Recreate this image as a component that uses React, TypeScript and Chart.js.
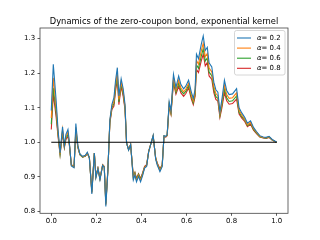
import React, { useEffect, useRef } from "react";
import { Chart, registerables } from "chart.js";

Chart.register(...registerables);

const TITLE = "Dynamics of the zero-coupon bond, exponential kernel";
const ALPHAS = ["0.2", "0.4", "0.6", "0.8"];
const COLORS = ["#1f77b4", "#ff7f0e", "#2ca02c", "#d62728"];
const X_TICKS = [0, 0.2, 0.4, 0.6, 0.8, 1.0];
const Y_TICKS = [0.8, 0.9, 1.0, 1.1, 1.2, 1.3];
const BASELINE_X = [0, 1];
const BASELINE_Y = [1, 1];

const T = [
  0.000, 0.009, 0.021, 0.030, 0.039, 0.050, 0.058, 0.065, 0.074, 0.080,
  0.089, 0.101, 0.109, 0.118, 0.127, 0.139, 0.151, 0.160, 0.169, 0.180,
  0.191, 0.198, 0.207, 0.216, 0.228, 0.235, 0.242, 0.251, 0.260, 0.269,
  0.278, 0.285, 0.293, 0.300, 0.310, 0.319, 0.327, 0.334, 0.343, 0.352,
  0.364, 0.371, 0.378, 0.387, 0.396, 0.405, 0.414, 0.423, 0.432, 0.442,
  0.452, 0.463, 0.470, 0.482, 0.492, 0.500, 0.508, 0.514, 0.523, 0.531,
  0.542, 0.553, 0.565, 0.575, 0.587, 0.597, 0.609, 0.621, 0.630, 0.638,
  0.644, 0.653, 0.665, 0.674, 0.683, 0.692, 0.700, 0.712, 0.721, 0.730,
  0.739, 0.748, 0.757, 0.768, 0.778, 0.789, 0.804, 0.822, 0.833, 0.845,
  0.858, 0.870, 0.884, 0.897, 0.910, 0.925, 0.940, 0.953, 0.966, 0.980,
  0.990, 1.000,
];

const RED = [
  1.037, 1.139, 1.076, 1.017, 0.964, 1.027, 0.984, 1.008, 1.017, 0.993,
  0.935, 0.930, 1.027, 0.984, 0.964, 0.957, 0.959, 0.967, 0.955, 0.858,
  0.969, 0.901, 0.925, 0.895, 0.935, 0.930, 0.824, 0.920, 1.056, 1.095,
  1.105, 1.148, 1.182, 1.109, 1.162, 1.133, 1.095, 0.998, 0.979, 0.993,
  0.901, 0.913, 0.895, 0.909, 0.895, 0.911, 0.930, 0.935, 0.974, 0.996,
  1.017, 0.955, 0.940, 0.923, 0.935, 1.017, 1.015, 1.019, 1.105, 1.081,
  1.173, 1.139, 1.162, 1.143, 1.133, 1.141, 1.158, 1.126, 1.109, 1.133,
  1.211, 1.202, 1.235, 1.255, 1.221, 1.231, 1.192, 1.182, 1.144, 1.124,
  1.119, 1.072, 1.100, 1.144, 1.120, 1.110, 1.112, 1.125, 1.082, 1.070,
  1.060, 1.045, 1.052, 1.035, 1.025, 1.015, 1.012, 1.011, 1.014, 1.006,
  1.003, 1.000,
];

const GREEN = [
  1.052, 1.158, 1.090, 1.023, 0.965, 1.032, 0.986, 1.012, 1.023, 0.995,
  0.934, 0.929, 1.035, 0.986, 0.964, 0.957, 0.960, 0.968, 0.955, 0.856,
  0.969, 0.900, 0.924, 0.894, 0.934, 0.929, 0.821, 0.919, 1.059, 1.100,
  1.112, 1.157, 1.192, 1.117, 1.169, 1.140, 1.100, 0.998, 0.978, 0.993,
  0.898, 0.911, 0.892, 0.907, 0.892, 0.909, 0.928, 0.933, 0.973, 0.996,
  1.018, 0.954, 0.938, 0.921, 0.933, 1.018, 1.016, 1.020, 1.109, 1.084,
  1.180, 1.145, 1.171, 1.150, 1.140, 1.148, 1.165, 1.132, 1.114, 1.139,
  1.224, 1.214, 1.249, 1.271, 1.235, 1.244, 1.203, 1.193, 1.153, 1.132,
  1.127, 1.077, 1.108, 1.155, 1.129, 1.118, 1.120, 1.134, 1.087, 1.074,
  1.064, 1.048, 1.055, 1.037, 1.027, 1.016, 1.013, 1.012, 1.015, 1.006,
  1.003, 1.000,
];

const ORANGE = [
  1.070, 1.187, 1.105, 1.029, 0.967, 1.037, 0.988, 1.017, 1.029, 0.998,
  0.933, 0.928, 1.043, 0.988, 0.965, 0.958, 0.961, 0.969, 0.955, 0.853,
  0.969, 0.899, 0.924, 0.893, 0.934, 0.928, 0.818, 0.918, 1.062, 1.104,
  1.119, 1.166, 1.202, 1.124, 1.175, 1.146, 1.104, 0.998, 0.978, 0.993,
  0.895, 0.908, 0.889, 0.904, 0.889, 0.906, 0.927, 0.932, 0.973, 0.996,
  1.019, 0.953, 0.937, 0.918, 0.932, 1.018, 1.016, 1.021, 1.112, 1.087,
  1.187, 1.151, 1.180, 1.157, 1.146, 1.154, 1.171, 1.138, 1.120, 1.145,
  1.237, 1.226, 1.264, 1.287, 1.248, 1.257, 1.215, 1.204, 1.162, 1.141,
  1.135, 1.082, 1.115, 1.166, 1.138, 1.127, 1.129, 1.143, 1.093, 1.079,
  1.067, 1.051, 1.058, 1.040, 1.029, 1.017, 1.014, 1.013, 1.016, 1.007,
  1.003, 1.000,
];

const BLUE = [
  1.092, 1.226, 1.126, 1.037, 0.969, 1.045, 0.990, 1.023, 1.037, 1.001,
  0.931, 0.926, 1.054, 0.990, 0.966, 0.959, 0.962, 0.971, 0.955, 0.850,
  0.969, 0.897, 0.923, 0.891, 0.933, 0.927, 0.814, 0.916, 1.066, 1.110,
  1.129, 1.178, 1.216, 1.134, 1.184, 1.155, 1.110, 0.998, 0.977, 0.993,
  0.891, 0.905, 0.885, 0.901, 0.885, 0.903, 0.925, 0.930, 0.972, 0.996,
  1.020, 0.951, 0.934, 0.915, 0.929, 1.019, 1.017, 1.022, 1.117, 1.091,
  1.197, 1.159, 1.192, 1.167, 1.155, 1.163, 1.180, 1.146, 1.127, 1.153,
  1.255, 1.242, 1.283, 1.308, 1.266, 1.275, 1.230, 1.218, 1.174, 1.152,
  1.145, 1.088, 1.125, 1.180, 1.150, 1.138, 1.140, 1.155, 1.100, 1.085,
  1.072, 1.055, 1.062, 1.043, 1.031, 1.019, 1.015, 1.014, 1.017, 1.008,
  1.004, 1.000,
];

const SERIES = [BLUE, ORANGE, GREEN, RED];

const FONT = "'DejaVu Sans', sans-serif";

const framePlugin = {
  id: "frame",
  afterDraw(chart: any) {
    const { ctx, chartArea } = chart;
    const { left, right, top, bottom } = chartArea;
    ctx.save();
    // spines
    ctx.strokeStyle = "#444";
    ctx.lineWidth = 0.8;
    ctx.strokeRect(left, top, right - left, bottom - top);
    // title
    ctx.fillStyle = "#000";
    ctx.font = `8.33px ${FONT}`;
    ctx.textAlign = "center";
    ctx.textBaseline = "middle";
    ctx.fillText(TITLE, (left + right) / 2, 21.5);
    // legend
    const bx = 234.5, by = 30.5, bw = 50.5, bh = 44.5, r = 2;
    ctx.beginPath();
    ctx.moveTo(bx + r, by);
    ctx.lineTo(bx + bw - r, by);
    ctx.quadraticCurveTo(bx + bw, by, bx + bw, by + r);
    ctx.lineTo(bx + bw, by + bh - r);
    ctx.quadraticCurveTo(bx + bw, by + bh, bx + bw - r, by + bh);
    ctx.lineTo(bx + r, by + bh);
    ctx.quadraticCurveTo(bx, by + bh, bx, by + bh - r);
    ctx.lineTo(bx, by + r);
    ctx.quadraticCurveTo(bx, by, bx + r, by);
    ctx.closePath();
    ctx.fillStyle = "rgba(255,255,255,0.8)";
    ctx.fill();
    ctx.strokeStyle = "#cccccc";
    ctx.lineWidth = 0.8;
    ctx.stroke();
    const ds = chart.data.datasets.slice(0, 4);
    ds.forEach((d: any, i: number) => {
      const y = 38 + i * 10.1;
      ctx.strokeStyle = d.borderColor;
      ctx.lineWidth = 1.1;
      ctx.beginPath();
      ctx.moveTo(237, y);
      ctx.lineTo(251, y);
      ctx.stroke();
      ctx.fillStyle = "#000";
      ctx.textAlign = "left";
      ctx.textBaseline = "middle";
      ctx.font = `italic 6.94px ${FONT}`;
      ctx.fillText("α", 257, y);
      const aw = ctx.measureText("α").width;
      ctx.font = `6.94px ${FONT}`;
      ctx.fillText(d.label.replace("α", ""), 257 + aw, y);
    });
    ctx.restore();
  },
};

export default function App() {
  const ref = useRef<HTMLCanvasElement | null>(null);
  useEffect(() => {
    if (!ref.current) return;
    const datasets: any[] = SERIES.map((s, k) => ({
      label: "α= " + ALPHAS[k],
      data: T.map((x, i) => ({ x, y: s[i] })),
      borderColor: COLORS[k],
      backgroundColor: COLORS[k],
      borderWidth: 1.1,
      pointRadius: 0,
      tension: 0,
      order: k + 1,
    }));
    datasets.push({
      label: "baseline",
      data: BASELINE_X.map((x, i) => ({ x, y: BASELINE_Y[i] })),
      borderColor: "#000",
      borderWidth: 1.1,
      pointRadius: 0,
      order: 0,
    });
    const chart = new Chart(ref.current, {
      type: "line",
      data: { datasets },
      plugins: [framePlugin],
      options: {
        animation: false,
        responsive: false,
        devicePixelRatio: 1,
        layout: { padding: { top: 28, right: 32, left: 0, bottom: 0 } },
        plugins: {
          legend: { display: false },
          title: { display: false },
          tooltip: { enabled: false },
        },
        scales: {
          x: {
            type: "linear",
            min: -0.05,
            max: 1.05,
            afterBuildTicks: (s: any) => {
              s.ticks = X_TICKS.map((v) => ({ value: v }));
            },
            afterFit: (s: any) => {
              s.height = 26.7;
            },
            ticks: {
              callback: (v: any) => Number(v).toFixed(1),
              font: { family: FONT, size: 6.94 },
              color: "#000",
              padding: 0.8,
              maxRotation: 0,
              autoSkip: false,
            },
            grid: {
              display: true,
              drawOnChartArea: false,
              drawTicks: true,
              tickLength: 2.5,
              tickColor: "#333",
              tickWidth: 0.8,
            },
            border: { display: false },
          },
          y: {
            type: "linear",
            min: 0.794,
            max: 1.331,
            afterBuildTicks: (s: any) => {
              s.ticks = Y_TICKS.map((v) => ({ value: v }));
            },
            afterFit: (s: any) => {
              s.width = 40;
            },
            ticks: {
              callback: (v: any) => Number(v).toFixed(1),
              font: { family: FONT, size: 6.94 },
              color: "#000",
              padding: 2.4,
              autoSkip: false,
            },
            grid: {
              display: true,
              drawOnChartArea: false,
              drawTicks: true,
              tickLength: 2.5,
              tickColor: "#333",
              tickWidth: 0.8,
            },
            border: { display: false },
          },
        },
      },
    });
    return () => chart.destroy();
  }, []);
  return (
    <div style={{ position: "fixed", left: 0, top: 0, width: 320, height: 240, background: "#fff" }}>
      <canvas ref={ref} width={320} height={240} style={{ width: 320, height: 240, display: "block" }} />
    </div>
  );
}
